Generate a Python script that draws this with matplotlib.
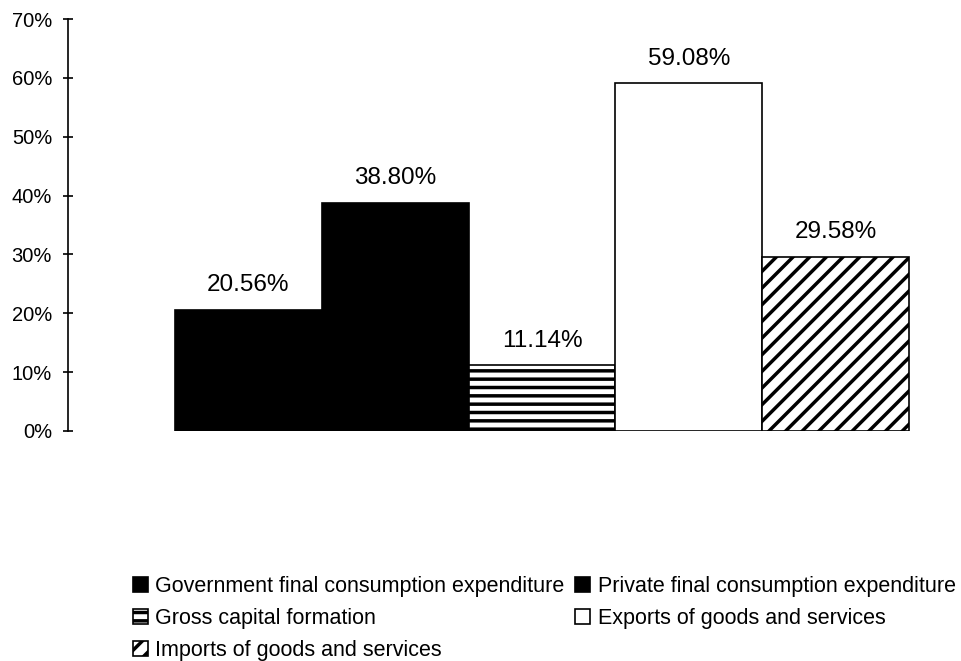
import matplotlib
matplotlib.use("Agg")
import matplotlib.pyplot as plt
from matplotlib.ticker import FuncFormatter

# components of GDP, share in %
categories = [
    "Government final consumption expenditure",
    "Private final consumption expenditure",
    "Gross capital formation",
    "Exports of goods and services",
    "Imports of goods and services",
]
shares = [20.56, 38.80, 11.14, 59.08, 29.58]
yticks = [0, 10, 20, 30, 40, 50, 60, 70]

plt.rcParams["font.family"] = ["Liberation Sans", "DejaVu Sans"]
plt.rcParams["hatch.linewidth"] = 2.5

fills = ["black", "black", "white", "white", "white"]
hatches = [None, None, "--", None, "//"]

fig = plt.figure(figsize=(9.61, 6.61), dpi=100)
ax = fig.add_axes([0.0708, 0.348, 0.9292, 0.623])

bars = []
for i, (name, val) in enumerate(zip(categories, shares)):
    b = ax.bar(i, val, width=1.0, color=fills[i], edgecolor="black",
               linewidth=1.2, hatch=hatches[i], label=name)[0]
    bars.append(b)
    ax.annotate("{0:.2f}%".format(val), (i, val), xytext=(0, 10),
                textcoords="offset points", ha="center", va="bottom",
                fontsize=17.5)

ax.set_xlim(-1.228, 4.854)
ax.set_ylim(0, 70)
ax.set_yticks(yticks)
ax.yaxis.set_major_formatter(FuncFormatter(lambda v, p: "{0:.0f}%".format(v)))
ax.tick_params(axis="y", direction="inout", length=7, width=1.2,
               labelsize=14.5, pad=8)
ax.set_xticks([])
for side in ["top", "right", "bottom"]:
    ax.spines[side].set_visible(False)
ax.spines["left"].set_linewidth(1.2)

order = [0, 2, 4, 1, 3]
leg = fig.legend([bars[k] for k in order], [categories[k] for k in order],
                 loc="upper left", bbox_to_anchor=(0.138, 0.128),
                 ncol=2, frameon=False, fontsize=15.5,
                 handlelength=0.7, handleheight=0.7, handletextpad=0.35,
                 columnspacing=0.5, labelspacing=0.5, borderpad=0,
                 borderaxespad=0)

fig.savefig("out.png", dpi=100)
